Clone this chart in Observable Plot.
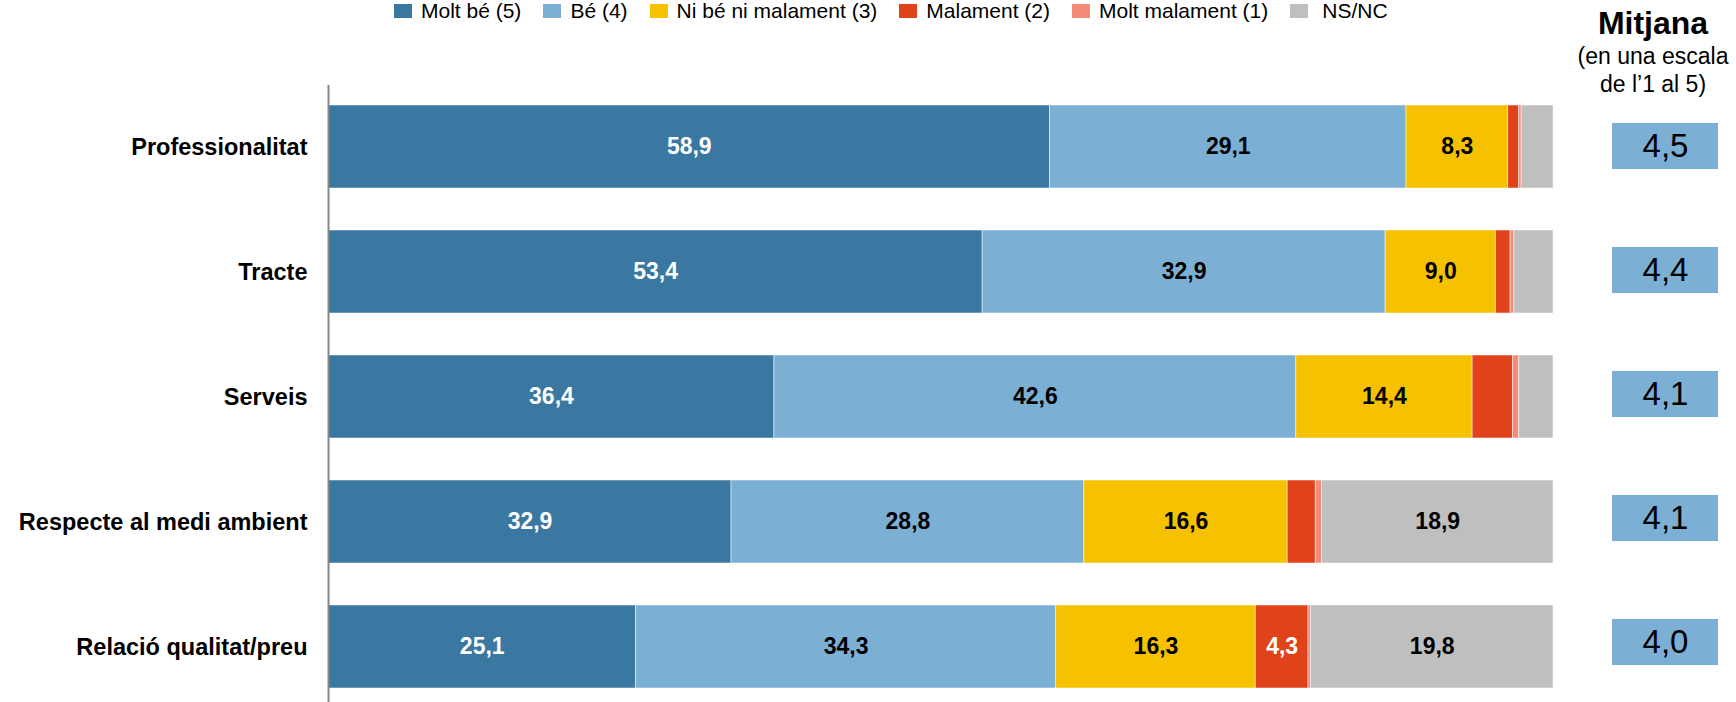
<!DOCTYPE html>
<html><head><meta charset="utf-8">
<script src="https://cdn.jsdelivr.net/npm/d3@7"></script>
<script src="https://cdn.jsdelivr.net/npm/@observablehq/plot@0.6"></script>
<style>
body{margin:0;background:#fff;font-family:"Liberation Sans",Arial,sans-serif;color:#000;}
#wrap{display:flex;width:1736px;height:702px;overflow:hidden;align-items:flex-start;}
#left{width:1570px;}
#right{width:166px;}
#legend{display:flex;align-items:center;height:22px;padding-left:394px;font-size:21px;line-height:22px;white-space:nowrap;}
.item{display:flex;align-items:center;margin-right:22px;}
.item:last-child span{margin-left:5px;}
.sw{width:18px;height:14px;margin-right:9px;flex:none;}
#head{height:100px;box-sizing:border-box;padding-top:5px;text-align:center;}
#head .t{font-size:32px;font-weight:bold;line-height:37px;}
#head .s{font-size:23px;line-height:28px;}
</style></head>
<body>
<div id="wrap">
  <div id="left"><div id="legend"></div><div id="main"></div></div>
  <div id="right"><div id="head"><div class="t">Mitjana</div><div class="s">(en una escala<br>de l’1 al 5)</div></div><div id="avg"></div></div>
</div>
<script>
const categories = ["Professionalitat", "Tracte", "Serveis", "Respecte al medi ambient", "Relació qualitat/preu"];
const responses = ["Molt bé (5)", "Bé (4)", "Ni bé ni malament (3)", "Malament (2)", "Molt malament (1)", "NS/NC"];
const moltBe = [58.9, 53.4, 36.4, 32.9, 25.1];
const be = [29.1, 32.9, 42.6, 28.8, 34.3];
const niBeNiMalament = [8.3, 9.0, 14.4, 16.6, 16.3];
const malament = [0.9, 1.2, 3.3, 2.3, 4.3];
const moltMalament = [0.2, 0.3, 0.5, 0.5, 0.2];
const nsnc = [2.6, 3.2, 2.8, 18.9, 19.8];
const mitjana = [4.5, 4.4, 4.1, 4.1, 4.0];

const colors = ["#3a77a1", "#7bafd4", "#f5c100", "#e0431a", "#f28b77", "#bfbfbf"];
const seriesValues = [moltBe, be, niBeNiMalament, malament, moltMalament, nsnc];

const data = [];
seriesValues.forEach((vals, j) => categories.forEach((c, i) => data.push({cat: c, response: responses[j], value: vals[i]})));
const avgData = categories.map((c, i) => ({cat: c, avg: mitjana[i]}));
const fmt = v => v.toFixed(1).replace(".", ",");
const whiteLabels = new Set([responses[0], responses[3]]);
const font = "'Liberation Sans', Arial, sans-serif";

// legend
const legend = document.getElementById("legend");
responses.forEach((r, j) => {
  const it = document.createElement("div"); it.className = "item";
  const sw = document.createElement("div"); sw.className = "sw"; sw.style.background = colors[j];
  const tx = document.createElement("span"); tx.textContent = r;
  it.appendChild(sw); it.appendChild(tx); legend.appendChild(it);
});

const main = Plot.plot({
  width: 1570, height: 680,
  marginLeft: 328, marginRight: 17, marginTop: 63, marginBottom: 0,
  style: {fontFamily: font, fontSize: "23.5px", fontWeight: "bold", color: "#000", background: "white", overflow: "visible"},
  x: {domain: [0, 100], axis: null},
  y: {domain: categories, range: [41, 708], padding: 0.336, tickSize: 0, tickPadding: 21, label: null},
  color: {domain: responses, range: colors},
  marks: [
    Plot.barX(data, {x: "value", y: "cat", fill: "response", stroke: "white", strokeOpacity: 0.5, strokeWidth: 1}),
    Plot.text(data, Plot.stackX({x: "value", y: "cat", z: "response",
      text: d => (whiteLabels.has(d.response) && d.value >= 4) ? fmt(d.value) : null,
      fill: "white", fontSize: 23, fontWeight: "bold"})),
    Plot.text(data, Plot.stackX({x: "value", y: "cat", z: "response",
      text: d => (!whiteLabels.has(d.response) && d.value >= 4) ? fmt(d.value) : null,
      fill: "black", fontSize: 23, fontWeight: "bold"})),
    Plot.ruleX([0], {stroke: "#868686", strokeWidth: 2})
  ]
});
document.getElementById("main").appendChild(main);

const avg = Plot.plot({
  width: 166, height: 602,
  marginLeft: 42, marginRight: 18, marginTop: 0, marginBottom: 0,
  style: {fontFamily: font, color: "#000", background: "white", overflow: "visible"},
  x: {domain: ["Mitjana"], axis: null, padding: 0},
  y: {domain: categories, range: [-55.8, 644], padding: 0.63, axis: null},
  marks: [
    Plot.cell(avgData, {x: () => "Mitjana", y: "cat", fill: "#7bafd4"}),
    Plot.text(avgData, {x: () => "Mitjana", y: "cat", text: d => fmt(d.avg), fontSize: 33, fill: "#000"})
  ]
});
document.getElementById("avg").appendChild(avg);
</script>
</body></html>
